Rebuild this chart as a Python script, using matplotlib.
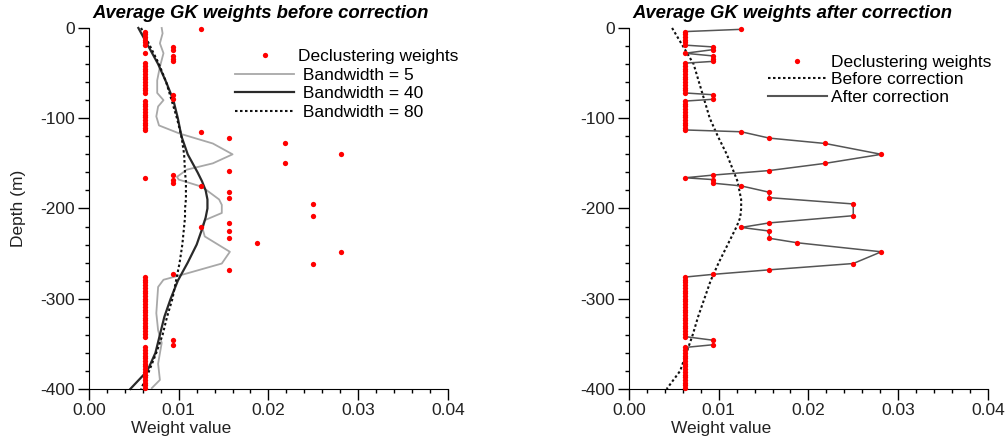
import matplotlib
matplotlib.use("Agg")
from matplotlib import pyplot as plt
from matplotlib.ticker import MultipleLocator, FormatStrFormatter

plt.rcParams["font.family"] = ["Liberation Sans", "DejaVu Sans"]
plt.rcParams["axes.unicode_minus"] = False

W0 = 0.00625  # weight of the densely sampled intervals

# declustering weights, listed from the top of the hole down
decl_depth = (
    [-1.5]
    + [-4, -7, -10, -13, -16, -19]
    + [-21, -24, -28, -31, -34, -37]
    + [-39, -42, -45, -48, -51, -54, -57, -60, -63, -66, -69, -72]
    + [-74, -79]
    + [-81, -84, -87, -90, -93, -96, -99, -102, -105, -108, -111, -113]
    + [-115, -122, -128, -140, -150, -158, -163, -166, -168, -172, -175, -182,
       -188, -195, -208, -216, -221, -225, -233, -238, -248, -261, -268, -273]
    + [-276, -279, -282, -285, -288, -291, -294, -297, -300, -303, -306, -309,
       -312, -315, -318, -321, -324, -327, -330, -333, -336, -339, -342]
    + [-346, -351]
    + [-354, -357, -360, -363, -366, -369, -372, -375, -378, -381, -384, -387,
       -390, -393, -396, -399]
)
decl_weight = (
    [0.0125]
    + [W0] * 6
    + [0.009375, 0.009375, W0, 0.009375, 0.009375, 0.009375]
    + [W0] * 12
    + [0.009375, 0.009375]
    + [W0] * 12
    + [0.0125, 0.015625, 0.021875, 0.028125, 0.021875, 0.015625, 0.009375, W0,
       0.009375, 0.009375, 0.0125, 0.015625, 0.015625, 0.025, 0.025, 0.015625,
       0.0125, 0.015625, 0.015625, 0.01875, 0.028125, 0.025, 0.015625, 0.009375]
    + [W0] * 23
    + [0.009375, 0.009375]
    + [W0] * 16
)

# Gaussian-kernel averages of the weights (before correction)
bw5_depth = [0, -6, -17, -28, -43, -58, -72, -80, -87, -98, -108, -117, -128,
             -140, -150, -157, -165, -168, -176, -190, -196, -205, -213, -220,
             -231, -248, -261, -272, -279, -287, -316, -335, -349, -372, -390,
             -399]
bw5_weight = [0.0081, 0.0082, 0.0079, 0.0083, 0.0079, 0.0076, 0.0076, 0.0083,
              0.0077, 0.0075, 0.0078, 0.0101, 0.0138, 0.0160, 0.0138, 0.0109,
              0.0098, 0.0100, 0.0126, 0.0145, 0.0148, 0.0148, 0.0129, 0.0126,
              0.0129, 0.0157, 0.0148, 0.0109, 0.0083, 0.0077, 0.0075, 0.0077,
              0.0081, 0.0077, 0.0079, 0.0070]

gk_depth = [0, -20, -40, -60, -80, -100, -120, -140, -160, -170, -180, -190,
            -200, -210, -220, -240, -260, -280, -300, -320, -340, -360, -380,
            -400]
bw40_weight = [0.0055, 0.0066, 0.0077, 0.0086, 0.0094, 0.0099, 0.0103, 0.0110,
               0.0121, 0.0126, 0.0130, 0.0132, 0.0132, 0.0130, 0.0127, 0.0120,
               0.0110, 0.0099, 0.0091, 0.0084, 0.0079, 0.0074, 0.0065, 0.0046]
bw80_weight = [0.0058, 0.0068, 0.0078, 0.0086, 0.0092, 0.0098, 0.0103, 0.0106,
               0.0107, 0.0108, 0.0108, 0.0108, 0.0107, 0.0107, 0.0106, 0.0104,
               0.0101, 0.0097, 0.0093, 0.0087, 0.0082, 0.0075, 0.0067, 0.0058]

# GK average after correction
after_weight = [0.0048, 0.0060, 0.0072, 0.0078, 0.0084, 0.0090, 0.0099, 0.0109,
                0.0117, 0.0121, 0.0123, 0.0125, 0.0125, 0.0124, 0.0120, 0.0110,
                0.0100, 0.0091, 0.0084, 0.0077, 0.0071, 0.0064, 0.0057, 0.0042]


def style_axes(ax, ylabel=None):
    ax.set_xlim(0, 0.04)
    ax.set_ylim(-400, 0)
    ax.spines["top"].set_visible(False)
    ax.spines["right"].set_visible(False)
    ax.xaxis.set_major_locator(MultipleLocator(0.01))
    ax.xaxis.set_minor_locator(MultipleLocator(0.002))
    ax.xaxis.set_major_formatter(FormatStrFormatter("%.2f"))
    ax.yaxis.set_major_locator(MultipleLocator(100))
    ax.yaxis.set_minor_locator(MultipleLocator(20))
    ax.tick_params(which="major", length=8, width=1, labelsize=12.5,
                   labelcolor="#222222", pad=2)
    ax.tick_params(which="minor", length=3, width=1)
    ax.set_xlabel("Weight value", fontsize=12.5, color="#222222")
    ax.xaxis.set_label_coords(0.257, -0.088)
    if ylabel:
        ax.set_ylabel(ylabel, fontsize=12.5, color="#222222")
        ax.yaxis.set_label_coords(-0.175, 0.5)


fig = plt.figure(figsize=(10.05, 4.42), dpi=100)
ax1 = fig.add_axes([0.0886, 0.12, 0.357, 0.8167])
ax2 = fig.add_axes([0.6259, 0.12, 0.357, 0.8167])

# left: kernel averages for three bandwidths
ax1.plot(decl_weight, decl_depth, ls="none", marker="o", ms=3.8, color="red",
         mec="none", label="Declustering weights", zorder=4, clip_on=False)
ax1.plot(bw5_weight, bw5_depth, color="#a8a8a8", lw=1.3, label=" Bandwidth = 5",
         clip_on=False)
ax1.plot(bw40_weight, gk_depth, color="#2a2a2a", lw=1.6,
         label=" Bandwidth = 40", clip_on=False)
ax1.plot(bw80_weight, gk_depth, color="#111111", lw=1.5, ls=(0, (1.2, 1.2)),
         label=" Bandwidth = 80", clip_on=False)
style_axes(ax1, "Depth (m)")
ax1.text(0.008, 1.027, "Average GK weights before correction",
         transform=ax1.transAxes, fontsize=13.3, fontweight="bold",
         fontstyle="italic", va="baseline")
ax1.legend(loc="upper left", bbox_to_anchor=(0.407, 0.942), frameon=False,
           fontsize=12.5, numpoints=1, handlelength=3.4, handletextpad=0.25,
           labelspacing=0.2, borderpad=0, borderaxespad=0)

# right: corrected weights
ax2.plot(decl_weight, decl_depth, color="#555555", lw=1.1, zorder=3,
         clip_on=False)
ax2.plot(decl_weight, decl_depth, ls="none", marker="o", ms=3.8, color="red",
         mec="none", label="Declustering weights", zorder=4, clip_on=False)
ax2.plot(after_weight, gk_depth, color="#111111", lw=1.5, ls=(0, (1.2, 1.2)),
         label="Before correction", clip_on=False)
ax2.plot([], [], color="#555555", lw=1.5, label="After correction")
style_axes(ax2)
ax2.text(0.008, 1.027, "Average GK weights after correction",
         transform=ax2.transAxes, fontsize=13.3, fontweight="bold",
         fontstyle="italic", va="baseline")
ax2.legend(loc="upper left", bbox_to_anchor=(0.387, 0.925), frameon=False,
           fontsize=12.5, numpoints=1, handlelength=3.4, handletextpad=0.25,
           labelspacing=0.12, borderpad=0, borderaxespad=0)

fig.savefig("out.png", dpi=100)
